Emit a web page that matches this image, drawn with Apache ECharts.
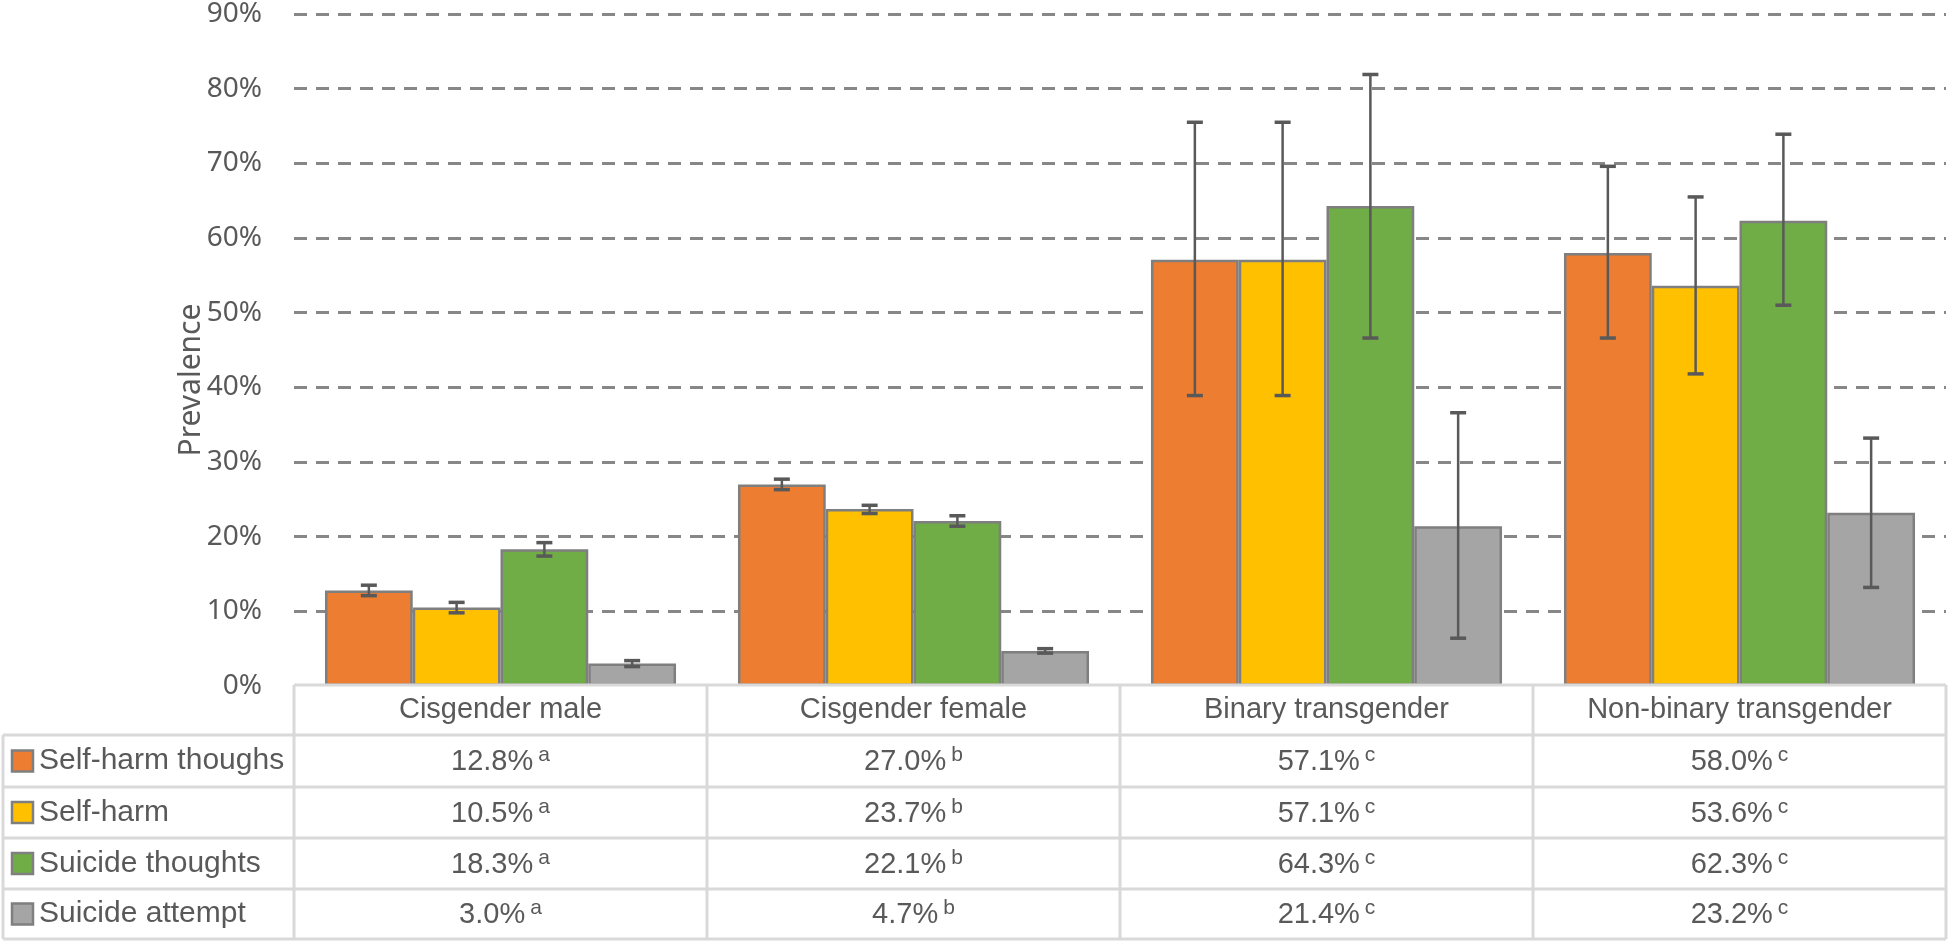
<!DOCTYPE html>
<html><head><meta charset="utf-8">
<script src="https://cdn.jsdelivr.net/npm/echarts@6/dist/echarts.min.js"></script>
<style>html,body{margin:0;padding:0;background:#fff}#c{width:1948px;height:942px}</style>
</head><body><div id="c"></div>
<script>
// ---- data ----
const categories = ['Cisgender male', 'Cisgender female', 'Binary transgender', 'Non-binary transgender'];
const seriesNames = ['Self-harm thoughs', 'Self-harm', 'Suicide thoughts', 'Suicide attempt'];
const selfHarmThoughts = [12.8, 27.0, 57.1, 58.0];
const selfHarm = [10.5, 23.7, 57.1, 53.6];
const suicideThoughts = [18.3, 22.1, 64.3, 62.3];
const suicideAttempt = [3.0, 4.7, 21.4, 23.2];
const selfHarmThoughtsLow = [12.1, 26.3, 38.9, 46.6];
const selfHarmThoughtsHigh = [13.5, 27.7, 75.5, 69.6];
const selfHarmLow = [9.8, 23.1, 38.9, 41.8];
const selfHarmHigh = [11.2, 24.2, 75.5, 65.5];
const suicideThoughtsLow = [17.4, 21.4, 46.6, 51.0];
const suicideThoughtsHigh = [19.2, 22.8, 81.9, 73.9];
const suicideAttemptLow = [2.6, 4.4, 6.4, 13.2];
const suicideAttemptHigh = [3.4, 5.0, 36.6, 33.2];
const superscripts = ['a', 'b', 'c', 'c'];
const yTicks = { min: 0, max: 90, interval: 10 };

const values = [selfHarmThoughts, selfHarm, suicideThoughts, suicideAttempt];
const lows = [selfHarmThoughtsLow, selfHarmLow, suicideThoughtsLow, suicideAttemptLow];
const highs = [selfHarmThoughtsHigh, selfHarmHigh, suicideThoughtsHigh, suicideAttemptHigh];
const colors = ['#ED7D31', '#FFC000', '#70AD47', '#A5A5A5'];

const TXT = '#595959';
const TFONT = 'Liberation Sans';
const YFONT = 'Noto Sans';
const CATGAP = 0.15;

const chart = echarts.init(document.getElementById('c'), null, { renderer: 'canvas' });

function errRender(idx) {
  return function (params, api) {
    const c = api.value(0);
    const lo = api.coord([c, api.value(1)]);
    const hi = api.coord([c, api.value(2)]);
    const band = api.size([1, 0])[0];
    const bw = band * (1 - CATGAP) / 4;
    const x = lo[0] + (idx - 1.5) * bw;
    const cap = 8;
    return {
      type: 'group',
      children: [
        { type: 'line', shape: { x1: x, y1: lo[1], x2: x, y2: hi[1] }, style: { stroke: '#595959', lineWidth: 2.5 } },
        { type: 'line', shape: { x1: x - cap, y1: lo[1], x2: x + cap, y2: lo[1] }, style: { stroke: '#595959', lineWidth: 3.5 } },
        { type: 'line', shape: { x1: x - cap, y1: hi[1], x2: x + cap, y2: hi[1] }, style: { stroke: '#595959', lineWidth: 3.5 } }
      ]
    };
  };
}

const series = [];
seriesNames.forEach((n, i) => {
  series.push({
    name: n, type: 'bar', data: values[i],
    barGap: '0%', barCategoryGap: (CATGAP * 100) + '%',
    itemStyle: { color: colors[i], borderColor: '#7f7f7f', borderWidth: 2.5 },
    z: 2
  });
});
seriesNames.forEach((n, i) => {
  series.push({
    name: n + ' CI', type: 'custom', renderItem: errRender(i), z: 5,
    data: categories.map((c, k) => [k, lows[i][k], highs[i][k]])
  });
});

chart.setOption({
  animation: false,
  grid: { left: 294, right: 2, top: 13, bottom: 256 },
  xAxis: {
    type: 'category', data: categories,
    axisLine: { show: false }, axisTick: { show: false },
    axisLabel: { color: TXT, fontFamily: TFONT, fontSize: 29, margin: 24, verticalAlign: 'middle' }
  },
  yAxis: {
    type: 'value', min: yTicks.min, max: yTicks.max, interval: yTicks.interval,
    axisLine: { show: false }, axisTick: { show: false },
    axisLabel: { formatter: '{value}%', color: TXT, fontFamily: YFONT, fontSize: 28, margin: 32 },
    splitLine: { showMinLine: false, lineStyle: { color: '#878787', width: 3, type: [13, 9] } }
  },
  series: series
});

// ---- table (categories header via x axis labels, rest as graphic) ----
const centers = categories.map(c => chart.convertToPixel({ xAxisIndex: 0 }, c));
const band = centers[1] - centers[0];
const left = centers[0] - band / 2;
const right = centers[centers.length - 1] + band / 2;
const rowsY = [685, 735, 787, 838, 889, 939];
const BORDER = { stroke: '#d9d9d9', lineWidth: 3 };
const g = [];
// horizontal lines
g.push({ type: 'line', z: 10, shape: { x1: left, y1: rowsY[0], x2: right, y2: rowsY[0] }, style: BORDER });
for (let r = 1; r < rowsY.length; r++) {
  g.push({ type: 'line', z: 10, shape: { x1: 3, y1: rowsY[r], x2: right, y2: rowsY[r] }, style: BORDER });
}
// vertical lines
g.push({ type: 'line', z: 10, shape: { x1: 3, y1: rowsY[1], x2: 3, y2: rowsY[5] }, style: BORDER });
for (let k = 0; k <= categories.length; k++) {
  const x = left + k * band;
  g.push({ type: 'line', z: 10, shape: { x1: x, y1: rowsY[0], x2: x, y2: rowsY[5] }, style: BORDER });
}
// row labels + values
seriesNames.forEach((n, i) => {
  const yc = (rowsY[i + 1] + rowsY[i + 2]) / 2;
  g.push({ type: 'rect', z: 11, shape: { x: 12, y: yc - 10.5, width: 21, height: 21 }, style: { fill: colors[i], stroke: '#7f7f7f', lineWidth: 2.5 } });
  g.push({ type: 'text', z: 11, x: 39, y: yc, style: { text: n, fill: TXT, fontFamily: TFONT, fontSize: 30, align: 'left', verticalAlign: 'middle' } });
  categories.forEach((c, k) => {
    g.push({
      type: 'text', z: 11, x: centers[k], y: yc + 1,
      style: {
        text: '{v|' + values[i][k].toFixed(1) + '%}{s|' + superscripts[k] + '}',
        align: 'center', verticalAlign: 'middle',
        rich: {
          v: { fill: TXT, fontFamily: TFONT, fontSize: 29, lineHeight: 34 },
          s: { fill: TXT, fontFamily: TFONT, fontSize: 21, lineHeight: 21, verticalAlign: 'top', padding: [0, 0, 0, 5] }
        }
      }
    });
  });
});
// y axis title
g.push({ type: 'text', z: 11, x: 191, y: 380, rotation: Math.PI / 2, style: { text: 'Prevalence', fill: TXT, fontFamily: YFONT, fontSize: 30, align: 'center', verticalAlign: 'middle' } });

chart.setOption({ graphic: g });
</script>
</body></html>
